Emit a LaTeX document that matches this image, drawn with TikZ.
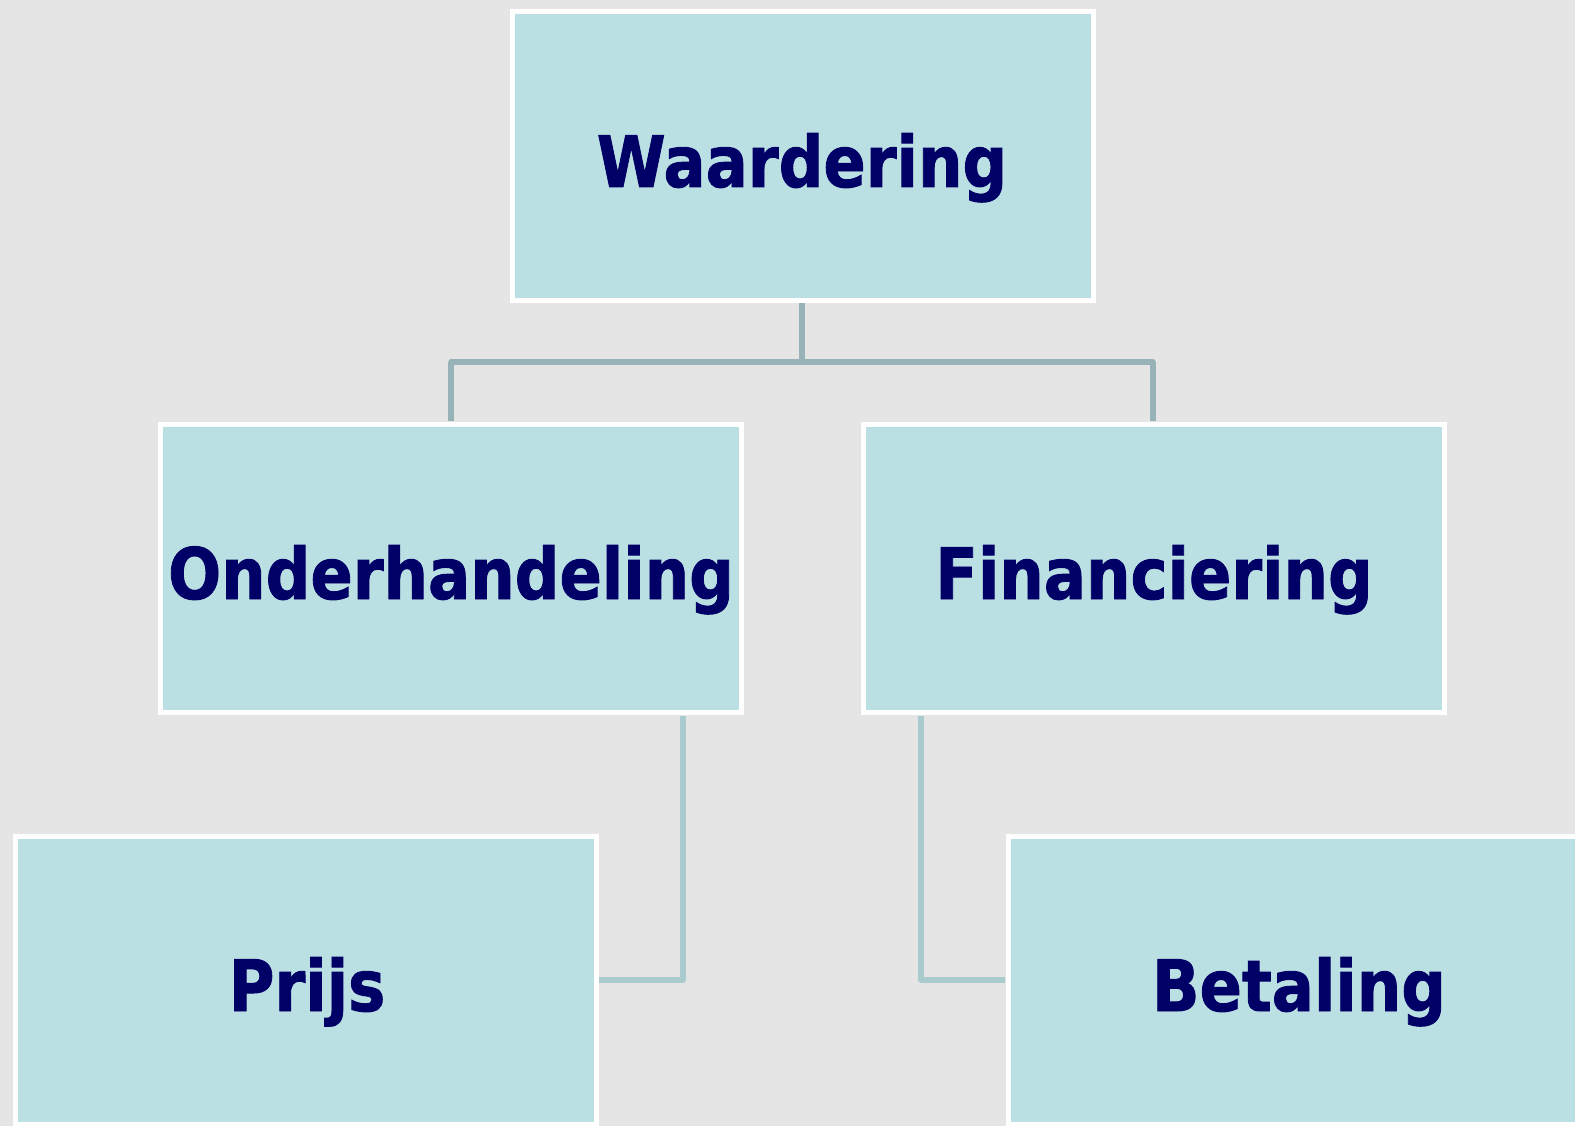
\documentclass[tikz,border=0pt]{standalone}
\usepackage{fontspec}
\setmainfont{DejaVu Sans}
\newfontfamily\boxfont{DejaVu Sans Bold}[FakeBold=1.3]
\definecolor{bg}{HTML}{E5E5E5}
\definecolor{boxfill}{HTML}{BBE0E3}
\definecolor{txt}{HTML}{000066}
\definecolor{lineA}{HTML}{97B3B7}
\definecolor{lineB}{HTML}{A9CBCE}
\newcommand{\boxtext}[1]{\scalebox{0.88}[1]{#1}}
\tikzset{
  orgbox/.style={draw=white, line width=5pt, fill=boxfill, minimum width=581pt, minimum height=288pt, inner sep=0pt, outer sep=0pt},
  lbl/.style={text=txt, font=\boxfont\fontsize{71}{76}\selectfont, inner sep=0pt, anchor=base},
  conA/.style={draw=lineA, line width=5.5pt},
  conB/.style={draw=lineB, line width=5.5pt},
}
\begin{document}
\begin{tikzpicture}[x=1pt,y=-1pt]
\useasboundingbox (0,0) rectangle (1575,1126);
\clip (0,0) rectangle (1575,1126);
\fill[bg] (0,0) rectangle (1575,1126);
% boxes
\node[orgbox] (w) at (802.5,156) {};
\node[orgbox] (o) at (451,568.5) {};
\node[orgbox] (f) at (1153.5,568.5) {};
\node[orgbox] (p) at (306,980.5) {};
\node[orgbox] (b) at (1298.5,980.5) {};
% labels
\node[lbl] (wt) at (802,187) {\boxtext{Waardering}};
\node[lbl] (ot) at (451,599) {\boxtext{Onderhandeling}};
\node[lbl] (ft) at (1154,599) {\boxtext{Financiering}};
\node[lbl] (pt) at (307,1011) {\boxtext{Prijs}};
\node[lbl] (bt) at (1299,1011) {\boxtext{Betaling}};
% connectors
\coordinate (j) at (802,362);
\coordinate (jl) at (451,362);
\coordinate (jr) at (1153,362);
\coordinate (cp) at (683,980);
\coordinate (cb) at (921,980);
\draw[conA] (802,303) -- (j);
\draw[conA, line cap=round] (jl) -- (jr);
\draw[conA] (jl) -- (451,421);
\draw[conA] (jr) -- (1153,421);
\draw[conB, line join=round] (683,716) -- (cp) -- (599,980);
\draw[conB, line join=round] (921,716) -- (cb) -- (1005,980);
\end{tikzpicture}
\end{document}
